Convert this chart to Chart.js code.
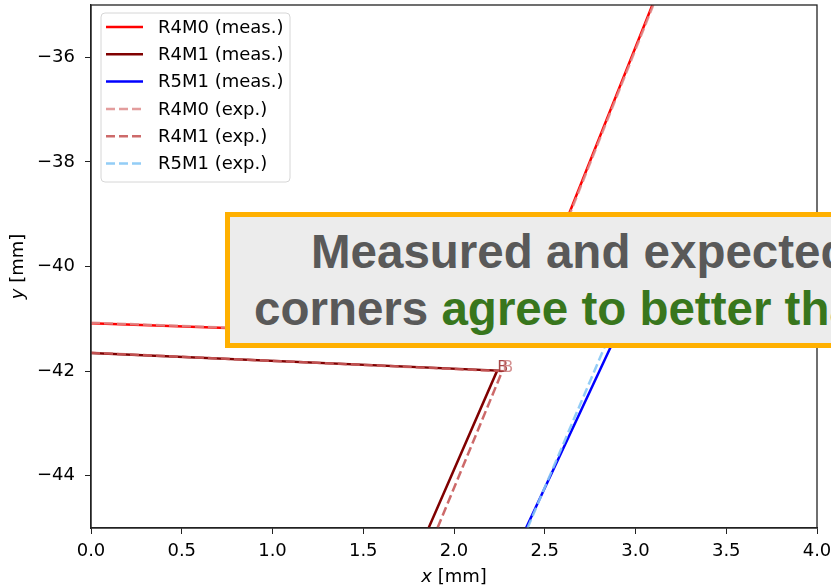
<!DOCTYPE html>
<html>
<head>
<meta charset="utf-8">
<script src="https://cdn.jsdelivr.net/npm/chart.js@4.4.1/dist/chart.umd.min.js"></script>
<style>
  html, body { margin: 0; padding: 0; background: #fff; }
  body { width: 831px; height: 586px; overflow: hidden; position: relative; }
  #plot { position: absolute; left: 0; top: 0; }
  .note {
    position: absolute; left: 225px; top: 212px;
    width: 720px; height: 126px;
    background: #ececec; border: 5.5px solid #ffb000;
  }
  .note div {
    position: absolute; white-space: nowrap;
    font: bold 47.5px "Liberation Sans", Arial, sans-serif;
    line-height: 57px; color: #595959;
  }
  .note .ok { color: #38761d; }
</style>
</head>
<body>
<canvas id="plot" width="831" height="586"></canvas>
<div class="note">
  <div style="left:81px; top:6px;">Measured and expected</div>
  <div style="left:24px; top:63px;">corners <span class="ok">agree to better than</span></div>
</div>
<script>
// tick positions
const xTicks = [0, 0.5, 1, 1.5, 2, 2.5, 3, 3.5, 4];
const yTicks = [-44, -42, -40, -38, -36];

// series labels
const labels = ['R4M0 (meas.)', 'R4M1 (meas.)', 'R5M1 (meas.)', 'R4M0 (exp.)', 'R4M1 (exp.)', 'R5M1 (exp.)'];

// outline points, corner is always the middle point
const r4m0MeasX = [0, 2.36, 3.093];
const r4m0MeasY = [-41.083, -41.37, -35];
const r4m1MeasX = [0, 2.238, 1.86];
const r4m1MeasY = [-41.655, -41.99, -45];
const r5m1MeasX = [2.397, 3.03, 4.0];
const r5m1MeasY = [-45, -40.3, -40.44];

const r4m0ExpX = [0, 2.365, 3.098];
const r4m0ExpY = [-41.075, -41.37, -35];
const r4m1ExpX = [0, 2.266, 1.909];
const r4m1ExpY = [-41.65, -42.0, -45];
const r5m1ExpX = [2.405, 2.982, 4.0];
const r5m1ExpY = [-45, -40.3, -40.45];

const cornerText = ['B', 'B', 'B', 'B', 'B', 'B'];

const FONT = '"DejaVu Sans", sans-serif';

function pts(xs, ys) {
    return xs.map((x, i) => ({ x: x, y: ys[i] }));
}

function line(label, xs, ys, color, dashed, textColor) {
    return {
        label: label,
        data: pts(xs, ys),
        showLine: true,
        borderColor: color,
        backgroundColor: color,
        borderWidth: 2.5,
        borderDash: dashed ? [9, 4] : [],
        pointRadius: 0,
        order: dashed ? 0 : 1,
        textColor: textColor
    };
}

// frame round the plot area
const frame = {
    id: 'frame',
    afterDatasetsDraw(chart) {
        const a = chart.chartArea, ctx = chart.ctx;
        ctx.save();
        ctx.strokeStyle = '#222';
        ctx.lineWidth = 1.3;
        ctx.strokeRect(a.left, a.top, a.right - a.left, a.bottom - a.top);
        ctx.restore();
    }
};

// "B" marks at the corner points
const corners = {
    id: 'corners',
    afterDatasetsDraw(chart) {
        const ctx = chart.ctx, xs = chart.scales.x, ys = chart.scales.y;
        ctx.save();
        ctx.font = '16px ' + FONT;
        ctx.textAlign = 'left';
        ctx.textBaseline = 'alphabetic';
        chart.data.datasets.forEach(function (ds, i) {
            const p = ds.data[1];
            ctx.fillStyle = ds.textColor;
            ctx.fillText(cornerText[i], xs.getPixelForValue(p.x), ys.getPixelForValue(p.y) + 1);
        });
        ctx.restore();
    }
};

// legend box in the upper left corner
const boxLegend = {
    id: 'boxLegend',
    afterDraw(chart) {
        const ctx = chart.ctx;
        const x0 = 101, y0 = 13, w = 189, h = 169, r = 4;
        ctx.save();
        ctx.beginPath();
        ctx.roundRect(x0, y0, w, h, r);
        ctx.fillStyle = 'rgba(255,255,255,0.8)';
        ctx.fill();
        ctx.strokeStyle = '#d6d6d6';
        ctx.lineWidth = 1;
        ctx.stroke();
        ctx.font = '18px ' + FONT;
        ctx.textBaseline = 'middle';
        ctx.textAlign = 'left';
        chart.data.datasets.forEach(function (ds, i) {
            const y = 27 + i * 27.3;
            ctx.beginPath();
            ctx.setLineDash(ds.borderDash);
            ctx.strokeStyle = ds.borderColor;
            ctx.lineWidth = ds.borderWidth;
            ctx.moveTo(106, y);
            ctx.lineTo(143, y);
            ctx.stroke();
            ctx.setLineDash([]);
            ctx.fillStyle = '#000';
            ctx.fillText(ds.label, 158, y + 1);
        });
        ctx.restore();
    }
};

// axis titles with italic variable names
const axisTitles = {
    id: 'axisTitles',
    afterDraw(chart) {
        const ctx = chart.ctx, a = chart.chartArea;
        ctx.save();
        ctx.fillStyle = '#000';
        ctx.textBaseline = 'middle';
        ctx.textAlign = 'left';
        const it = 'italic 18px ' + FONT, rm = '18px ' + FONT;
        // x
        ctx.font = it;
        const wx = ctx.measureText('x').width;
        ctx.font = rm;
        const wr = ctx.measureText(' [mm]').width;
        let sx = (a.left + a.right) / 2 - (wx + wr) / 2;
        ctx.font = it;
        ctx.fillText('x', sx, 577);
        ctx.font = rm;
        ctx.fillText(' [mm]', sx + wx, 577);
        // y
        ctx.translate(18, (a.top + a.bottom) / 2);
        ctx.rotate(-Math.PI / 2);
        ctx.font = it;
        const wy = ctx.measureText('y').width;
        sx = -(wy + wr) / 2;
        ctx.fillText('y', sx, 0);
        ctx.font = rm;
        ctx.fillText(' [mm]', sx + wy, 0);
        ctx.restore();
    }
};

const tickFont = { family: FONT, size: 18 };

new Chart(document.getElementById('plot').getContext('2d'), {
    type: 'scatter',
    data: {
        datasets: [
            line(labels[0], r4m0MeasX, r4m0MeasY, '#ff0000', false, 'rgba(255,0,0,0.6)'),
            line(labels[1], r4m1MeasX, r4m1MeasY, '#800000', false, 'rgba(150,40,40,0.85)'),
            line(labels[2], r5m1MeasX, r5m1MeasY, '#0000ff', false, 'rgba(0,0,255,0.6)'),
            line(labels[3], r4m0ExpX, r4m0ExpY, 'rgba(222,140,140,0.85)', true, 'rgba(222,140,140,0.9)'),
            line(labels[4], r4m1ExpX, r4m1ExpY, 'rgba(200,90,90,0.9)', true, 'rgba(205,125,125,0.85)'),
            line(labels[5], r5m1ExpX, r5m1ExpY, 'rgba(135,200,245,0.9)', true, 'rgba(135,200,245,0.9)')
        ]
    },
    options: {
        responsive: false,
        animation: false,
        devicePixelRatio: 1,
        layout: { padding: { top: 5, right: 14, left: 0, bottom: 0 } },
        plugins: { legend: { display: false }, tooltip: { enabled: false } },
        scales: {
            x: {
                type: 'linear',
                min: 0,
                max: 4,
                afterBuildTicks: s => { s.ticks = xTicks.map(v => ({ value: v })); },
                afterFit: s => { s.height = 58; s.paddingLeft = 0; s.paddingRight = 0; },
                ticks: {
                    callback: v => v.toFixed(1),
                    font: tickFont,
                    color: '#000',
                    padding: 7,
                    maxRotation: 0
                },
                grid: { drawOnChartArea: false, drawTicks: true, tickLength: 6, color: '#222' },
                border: { display: true, color: '#222', width: 1.3 }
            },
            y: {
                type: 'linear',
                min: -45,
                max: -35,
                afterBuildTicks: s => { s.ticks = yTicks.map(v => ({ value: v })); },
                afterFit: s => { s.width = 91; s.paddingTop = 0; s.paddingBottom = 0; },
                ticks: {
                    callback: v => '\u2212' + Math.abs(v),
                    font: tickFont,
                    color: '#000',
                    padding: 10
                },
                grid: { drawOnChartArea: false, drawTicks: true, tickLength: 6, color: '#222' },
                border: { display: true, color: '#222', width: 1.3 }
            }
        }
    },
    plugins: [frame, corners, boxLegend, axisTitles]
});
</script>
</body>
</html>
